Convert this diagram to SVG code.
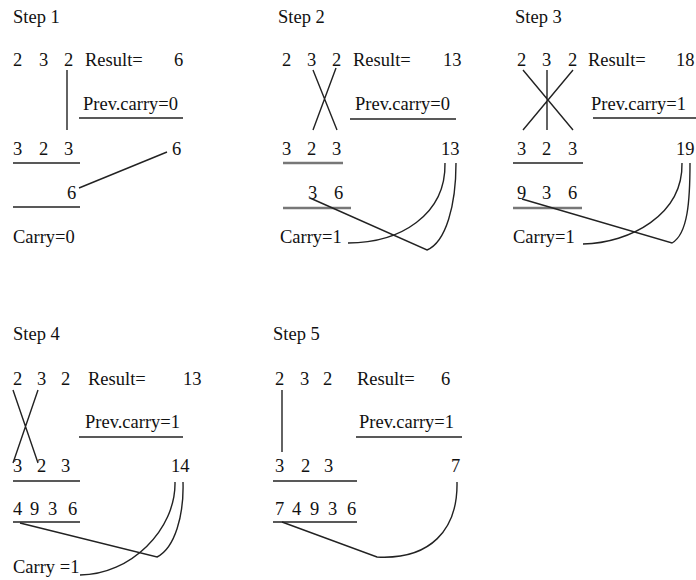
<svg xmlns="http://www.w3.org/2000/svg" width="696" height="580" viewBox="0 0 696 580">
<style>
text{font-family:"Liberation Serif","Times New Roman",serif;font-size:18.5px;fill:#111}
.ln{stroke:#222;stroke-width:1.4;fill:none}
.gr{stroke:#777;stroke-width:2.4;fill:none}
</style>
<rect width="696" height="580" fill="#fff"/>
<g id="step1">
<text x="13" y="23">Step 1</text>
<text x="13" y="66">2</text><text x="39" y="66">3</text><text x="64" y="66">2</text>
<text x="85" y="66">Result=</text><text x="174" y="66">6</text>
<text x="83" y="110">Prev.carry=0</text>
<text x="13" y="155">3</text><text x="39" y="155">2</text><text x="64" y="155">3</text>
<text x="172" y="155">6</text>
<text x="67" y="199">6</text>
<text x="13" y="243">Carry=0</text>
</g>
<g id="step2">
<text x="278" y="23">Step 2</text>
<text x="282" y="66">2</text><text x="307" y="66">3</text><text x="332" y="66">2</text>
<text x="353" y="66">Result=</text><text x="443" y="66">13</text>
<text x="355" y="110">Prev.carry=0</text>
<text x="282" y="155">3</text><text x="307" y="155">2</text><text x="332" y="155">3</text>
<text x="441" y="155">13</text>
<text x="308" y="199">3</text><text x="334" y="199">6</text>
<text x="280" y="243">Carry=1</text>
</g>
<g id="step3">
<text x="515" y="23">Step 3</text>
<text x="517" y="66">2</text><text x="542" y="66">3</text><text x="568" y="66">2</text>
<text x="588" y="66">Result=</text><text x="676" y="66">18</text>
<text x="591" y="110">Prev.carry=1</text>
<text x="517" y="155">3</text><text x="542" y="155">2</text><text x="568" y="155">3</text>
<text x="676" y="155">19</text>
<text x="517" y="199">9</text><text x="542" y="199">3</text><text x="568" y="199">6</text>
<text x="513" y="243">Carry=1</text>
</g>
<g id="step4">
<text x="13" y="340">Step 4</text>
<text x="13" y="385">2</text><text x="37" y="385">3</text><text x="61" y="385">2</text>
<text x="88" y="385">Result=</text><text x="183" y="385">13</text>
<text x="85" y="428">Prev.carry=1</text>
<text x="13" y="472">3</text><text x="37" y="472">2</text><text x="61" y="472">3</text>
<text x="171" y="472">14</text>
<text x="13" y="515">4</text><text x="30" y="515">9</text><text x="48" y="515">3</text><text x="68" y="515">6</text>
<text x="13" y="573">Carry =1</text>
</g>
<g id="step5">
<text x="273" y="340">Step 5</text>
<text x="275" y="385">2</text><text x="300" y="385">3</text><text x="323" y="385">2</text>
<text x="357" y="385">Result=</text><text x="441" y="385">6</text>
<text x="359" y="428">Prev.carry=1</text>
<text x="275" y="472">3</text><text x="301" y="472">2</text><text x="324" y="472">3</text>
<text x="451" y="472">7</text>
<text x="275" y="515">7</text><text x="292" y="515">4</text><text x="310" y="515">9</text><text x="328" y="515">3</text><text x="347" y="515">6</text>
</g>
<g id="connectors">
<!-- step 1 -->
<path class="ln" d="M67,70 V130"/>
<path class="ln" d="M79,118 H183"/>
<path class="ln" d="M13,163 H80"/>
<path class="ln" d="M167,152 L79,188"/>
<path class="ln" d="M13,207 H80"/>
<!-- step 2 -->
<path class="ln" d="M313,70 L337,130 M336,68 L313,130"/>
<path class="ln" d="M350,119 H456"/>
<path class="gr" d="M283,163 H343"/>
<path class="gr" d="M283,208 H351"/>
<path class="ln" d="M445,163 C446,215 400,243 348,243"/>
<path class="ln" d="M310,198 L427,250 C446,242 456,205 456,163"/>
<!-- step 3 -->
<path class="ln" d="M523,70 L573,130 M573,70 L523,130 M547,70 V130"/>
<path class="ln" d="M593,118 H696"/>
<path class="ln" d="M513,163 H583"/>
<path class="gr" d="M513,208 H582"/>
<path class="ln" d="M682,163 C683,215 630,243 583,244"/>
<path class="ln" d="M522,199 L672,243 C688,234 690,200 690,163"/>
<!-- step 4 -->
<path class="ln" d="M13,390 L38,463 M38,390 L13,463"/>
<path class="ln" d="M79,437 H183"/>
<path class="ln" d="M13,481 H80"/>
<path class="ln" d="M13,522 H80"/>
<path class="ln" d="M20,523 L157,557 C175,548 184,515 183,482"/>
<path class="ln" d="M175,482 C176,530 130,575 80,575"/>
<!-- step 5 -->
<path class="ln" d="M282,390 V452"/>
<path class="ln" d="M356,437 H462"/>
<path class="ln" d="M273,481 H357"/>
<path class="ln" d="M273,522 H357"/>
<path class="ln" d="M282,522 L377,557 C430,560 458,530 457,482"/>
</g>
</svg>
